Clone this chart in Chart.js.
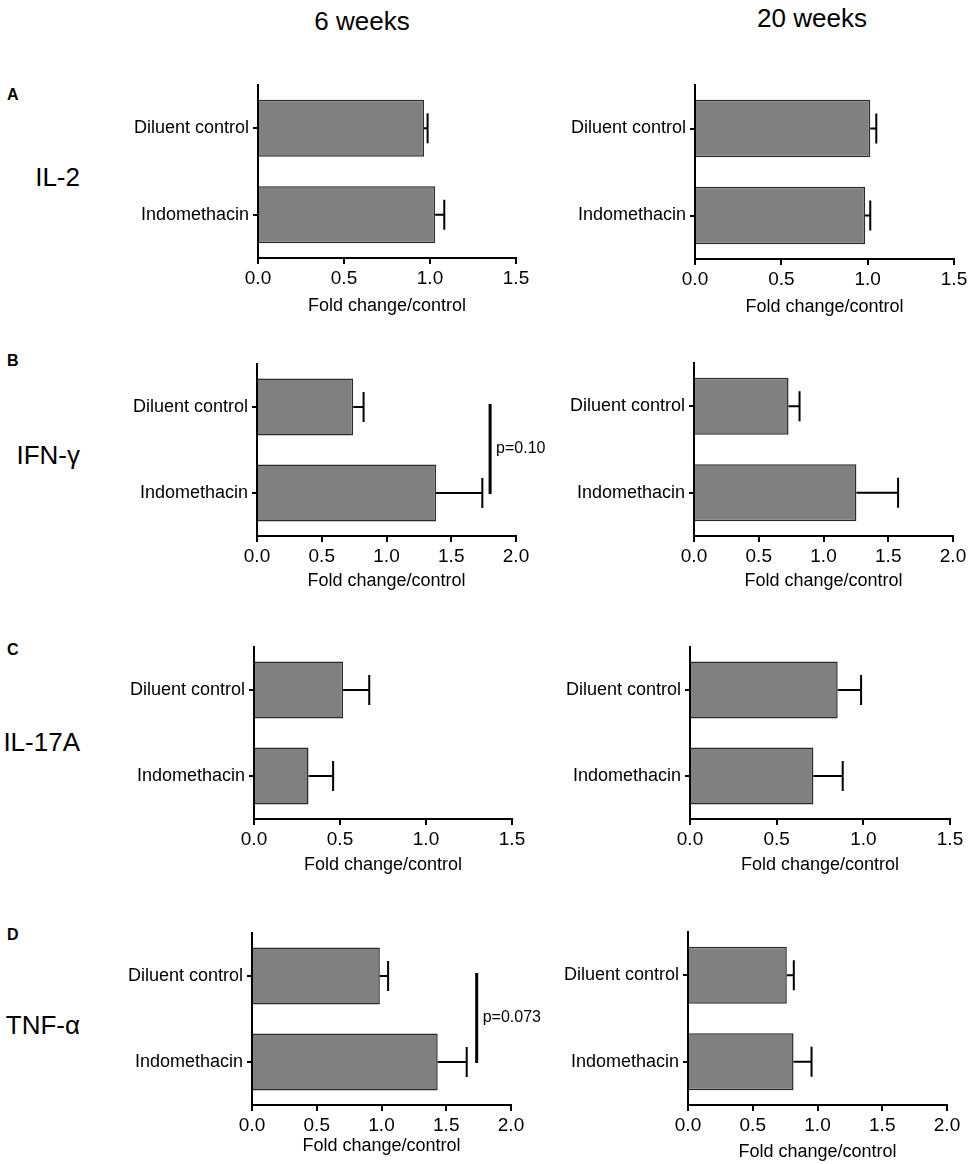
<!DOCTYPE html>
<html lang="en">
<head>
<meta charset="utf-8">
<title>Cytokine fold change</title>
<script src="https://cdn.jsdelivr.net/npm/chart.js"></script>
<style>
  body { margin: 0; background: #fff; font-family: "Liberation Sans", Arial, sans-serif; }
  #page { position: relative; width: 968px; height: 1164px; overflow: hidden; }
  canvas { position: absolute; }
  .lbl { position: absolute; color: #000; white-space: nowrap; line-height: 1; }
  .head { font-size: 26px; transform: translate(-50%, -50%); }
  .row { font-size: 26px; transform: translate(-100%, -50%); }
  .letter { font-size: 16px; font-weight: bold; transform: translateY(-50%); }
</style>
</head>
<body>
<div id="page">
  <div class="lbl head" style="left:362px;top:21px">6 weeks</div>
  <div class="lbl head" style="left:812px;top:18px">20 weeks</div>

  <div class="lbl letter" style="left:7px;top:95px">A</div>
  <div class="lbl letter" style="left:7px;top:361px">B</div>
  <div class="lbl letter" style="left:7px;top:650px">C</div>
  <div class="lbl letter" style="left:7px;top:935px">D</div>

  <div class="lbl row" style="left:80px;top:177px">IL-2</div>
  <div class="lbl row" style="left:80px;top:455px">IFN-γ</div>
  <div class="lbl row" style="left:80px;top:742px">IL-17A</div>
  <div class="lbl row" style="left:80px;top:1025px">TNF-α</div>
</div>
<script>
  // groups (mean fold change and error bar length)
  var categories = ['Diluent control', 'Indomethacin'];

  var il2_6w = [0.965, 1.03];
  var il2_6w_err = [0.021, 0.053];
  var il2_20w = [1.015, 0.985];
  var il2_20w_err = [0.035, 0.03];

  var ifng_6w = [0.743, 1.383];
  var ifng_6w_err = [0.08, 0.357];
  var ifng_20w = [0.73, 1.254];
  var ifng_20w_err = [0.085, 0.322];

  var il17_6w = [0.518, 0.317];
  var il17_6w_err = [0.152, 0.143];
  var il17_20w = [0.852, 0.712];
  var il17_20w_err = [0.135, 0.169];

  var tnf_6w = [0.987, 1.434];
  var tnf_6w_err = [0.064, 0.224];
  var tnf_20w = [0.763, 0.815];
  var tnf_20w_err = [0.054, 0.139];

  var xTicks15 = [0, 0.5, 1.0, 1.5];
  var xTicks20 = [0, 0.5, 1.0, 1.5, 2.0];

  var pB = { x: 1.80, text: 'p=0.10' };
  var pD = { x: 1.735, text: 'p=0.073' };

  // where each little chart sits on the page
  var colLeft = [100, 540];
  var panels = [
    { data: il2_6w, err: il2_6w_err, ticks: xTicks15, col: 0, axisX: 258, axisEnd: 516, top: 85, bottom: 258, titleDy: 48 },
    { data: il2_20w, err: il2_20w_err, ticks: xTicks15, col: 1, axisX: 695, axisEnd: 954, top: 85, bottom: 259, titleDy: 48 },
    { data: ifng_6w, err: ifng_6w_err, ticks: xTicks20, col: 0, axisX: 257, axisEnd: 516, top: 364, bottom: 536, titleDy: 45, p: pB },
    { data: ifng_20w, err: ifng_20w_err, ticks: xTicks20, col: 1, axisX: 694, axisEnd: 953, top: 363, bottom: 536, titleDy: 45 },
    { data: il17_6w, err: il17_6w_err, ticks: xTicks15, col: 0, axisX: 254, axisEnd: 512, top: 647, bottom: 819, titleDy: 46 },
    { data: il17_20w, err: il17_20w_err, ticks: xTicks15, col: 1, axisX: 690, axisEnd: 950, top: 647, bottom: 819, titleDy: 46 },
    { data: tnf_6w, err: tnf_6w_err, ticks: xTicks20, col: 0, axisX: 252, axisEnd: 511, top: 933, bottom: 1105, titleDy: 41, p: pD },
    { data: tnf_20w, err: tnf_20w_err, ticks: xTicks20, col: 1, axisX: 688, axisEnd: 947, top: 932, bottom: 1105, titleDy: 47 }
  ];

  var FONT = '"Liberation Sans", Arial, sans-serif';
  var PAD_TOP = 15;

  // one-sided error bars plus the p-value line
  var errorBars = {
    id: 'errorBars',
    afterDatasetsDraw: function (chart, args, opts) {
      var ctx = chart.ctx;
      var xs = chart.scales.x, ys = chart.scales.y;
      var ds = chart.data.datasets[0];
      var meta = chart.getDatasetMeta(0);
      ctx.save();
      ctx.strokeStyle = '#000';
      ctx.lineWidth = 2;
      meta.data.forEach(function (bar, i) {
        var x0 = xs.getPixelForValue(ds.data[i]);
        var x1 = xs.getPixelForValue(ds.data[i] + ds.err[i]);
        ctx.beginPath();
        ctx.moveTo(x0, bar.y);
        ctx.lineTo(x1, bar.y);
        ctx.moveTo(x1, bar.y - 15);
        ctx.lineTo(x1, bar.y + 15);
        ctx.stroke();
      });
      if (opts.p) {
        var px = xs.getPixelForValue(opts.p.x);
        var y0 = ys.getPixelForValue(0) - 3;
        var y1 = ys.getPixelForValue(1) + 1;
        ctx.lineWidth = 3;
        ctx.beginPath();
        ctx.moveTo(px, y0);
        ctx.lineTo(px, y1);
        ctx.stroke();
        ctx.fillStyle = '#000';
        ctx.font = '16px ' + FONT;
        ctx.textAlign = 'left';
        ctx.textBaseline = 'middle';
        ctx.fillText(opts.p.text, px + 6, (y0 + y1) / 2);
      }
      ctx.restore();
    }
  };

  var page = document.getElementById('page');

  panels.forEach(function (p) {
    var left = colLeft[p.col];
    var padRight = p.p ? 60 : 24;
    var xh = p.titleDy + 11;
    var canvas = document.createElement('canvas');
    canvas.width = p.axisEnd - left + padRight;
    canvas.height = PAD_TOP + (p.bottom - p.top) + xh;
    canvas.style.left = left + 'px';
    canvas.style.top = (p.top - PAD_TOP) + 'px';
    page.appendChild(canvas);

    new Chart(canvas, {
      type: 'bar',
      data: {
        labels: categories,
        datasets: [{
          data: p.data,
          err: p.err,
          backgroundColor: '#808080',
          borderColor: '#2b2b2b',
          borderWidth: 1.5,
          barPercentage: 0.66,
          categoryPercentage: 1
        }]
      },
      plugins: [errorBars],
      options: {
        indexAxis: 'y',
        responsive: false,
        animation: false,
        events: [],
        layout: { padding: { top: PAD_TOP, right: padRight, left: 0, bottom: 0 } },
        plugins: {
          legend: { display: false },
          tooltip: { enabled: false },
          errorBars: { p: p.p || null }
        },
        scales: {
          x: {
            type: 'linear',
            min: 0,
            max: p.ticks[p.ticks.length - 1],
            afterBuildTicks: function (axis) {
              axis.ticks = p.ticks.map(function (v) { return { value: v }; });
            },
            afterFit: function (axis) { axis.height = xh; },
            grid: { drawOnChartArea: false, drawTicks: true, tickLength: 6, color: '#000', lineWidth: 2 },
            border: { display: true, color: '#000', width: 2 },
            ticks: {
              color: '#000',
              padding: 3,
              font: { family: FONT, size: 19 },
              callback: function (v) { return Number(v).toFixed(1); }
            },
            title: {
              display: true,
              text: 'Fold change/control',
              color: '#000',
              padding: 0,
              font: { family: FONT, size: 18, lineHeight: 1.2 }
            }
          },
          y: {
            afterFit: function (axis) { axis.width = p.axisX - left; },
            grid: { drawOnChartArea: false, drawTicks: true, tickLength: 5, color: '#000', lineWidth: 2, offset: false },
            border: { display: true, color: '#000', width: 2 },
            ticks: { color: '#000', padding: 4, font: { family: FONT, size: 18 } }
          }
        }
      }
    });
  });
</script>
</body>
</html>
